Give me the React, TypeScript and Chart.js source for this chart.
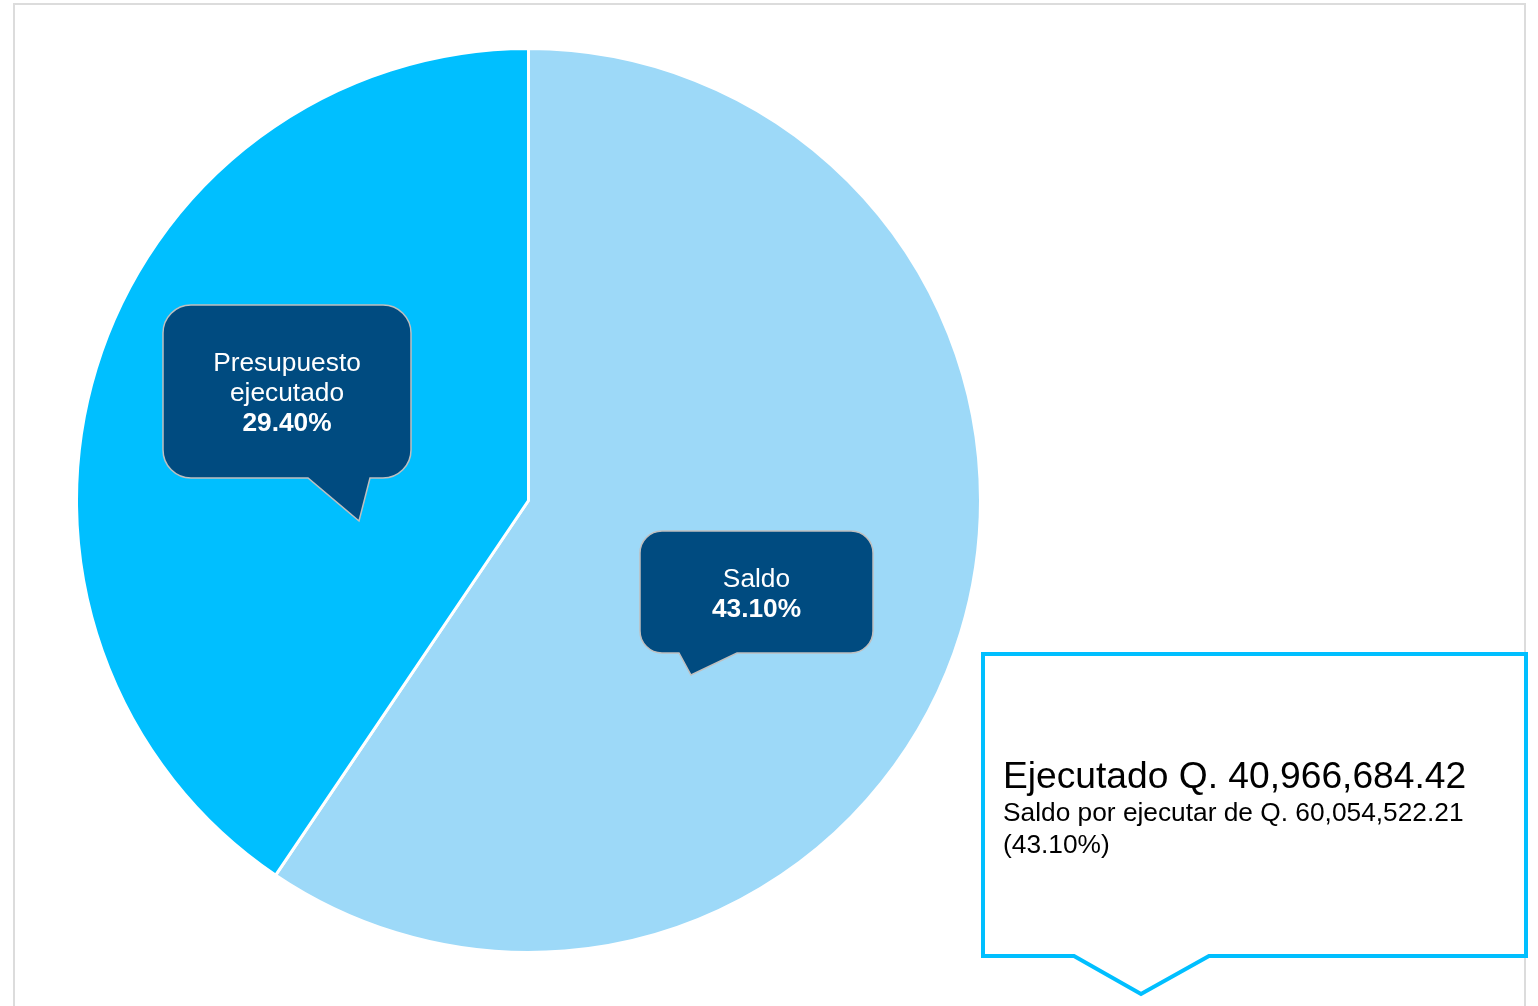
import React, { useEffect, useRef } from "react";
import { Chart, registerables } from "chart.js";

Chart.register(...registerables);

const categories = ["Saldo", "Presupuesto ejecutado"];
const amounts = [60054522.21, 40966684.42];
const percentLabels = ["43.10%", "29.40%"];
const summaryTitle = "Ejecutado Q. 40,966,684.42";
const summaryLine2 = "Saldo por ejecutar de Q. 60,054,522.21";
const summaryLine3 = "(43.10%)";

const SLICE_COLORS = ["#9DD9F8", "#00BFFF"];
const BUBBLE_FILL = "#004B80";
const BUBBLE_STROKE = "#BFBFBF";
const FONT = "Arial, 'Liberation Sans', Helvetica, sans-serif";

function bubblePath(
  x: number,
  y: number,
  w: number,
  h: number,
  r: number,
  tl: number,
  tr: number,
  tipX: number,
  tipY: number
) {
  const b = y + h;
  const rr = x + w;
  return [
    `M ${x + r} ${y}`,
    `H ${rr - r}`,
    `A ${r} ${r} 0 0 1 ${rr} ${y + r}`,
    `V ${b - r}`,
    `A ${r} ${r} 0 0 1 ${rr - r} ${b}`,
    `H ${tr}`,
    `L ${tipX} ${tipY}`,
    `L ${tl} ${b}`,
    `H ${x + r}`,
    `A ${r} ${r} 0 0 1 ${x} ${b - r}`,
    `V ${y + r}`,
    `A ${r} ${r} 0 0 1 ${x + r} ${y}`,
    "Z",
  ].join(" ");
}

export default function App() {
  const canvasRef = useRef<HTMLCanvasElement | null>(null);

  useEffect(() => {
    if (!canvasRef.current) return;
    const chart = new Chart(canvasRef.current, {
      type: "pie",
      data: {
        labels: categories,
        datasets: [
          {
            data: amounts,
            backgroundColor: SLICE_COLORS,
            borderColor: "#FFFFFF",
            borderWidth: 3,
          },
        ],
      },
      options: {
        animation: false,
        responsive: true,
        maintainAspectRatio: false,
        layout: { padding: 0 },
        plugins: {
          legend: { display: false },
          tooltip: { enabled: false },
          title: { display: false },
        },
      },
    });
    return () => chart.destroy();
  }, []);

  const textStyle: React.CSSProperties = {
    position: "absolute",
    color: "#FFFFFF",
    fontFamily: FONT,
    fontSize: 26.3,
    lineHeight: "30px",
    textAlign: "center",
    whiteSpace: "nowrap",
  };

  return (
    <div
      style={{
        position: "absolute",
        left: 0,
        top: 0,
        width: 1538,
        height: 1006,
        overflow: "hidden",
        background: "#FFFFFF",
      }}
    >
      <div
        style={{
          position: "absolute",
          left: 13,
          top: 3,
          width: 1509,
          height: 1100,
          border: "2px solid #DCDCDC",
        }}
      />
      <div
        style={{
          position: "absolute",
          left: 75,
          top: 47,
          width: 907,
          height: 907,
        }}
      >
        <canvas ref={canvasRef} />
      </div>
      <svg
        width={1538}
        height={1006}
        style={{ position: "absolute", left: 0, top: 0, pointerEvents: "none" }}
      >
        <path
          d={bubblePath(163, 305, 248, 173, 28, 308, 370, 359, 521)}
          fill={BUBBLE_FILL}
          stroke={BUBBLE_STROKE}
          strokeWidth={1.5}
        />
        <path
          d={bubblePath(640, 531, 233, 122, 22, 679, 737, 691, 675)}
          fill={BUBBLE_FILL}
          stroke={BUBBLE_STROKE}
          strokeWidth={1.5}
        />
        <path
          d={bubblePath(983, 654, 543, 302, 0, 1074, 1209, 1141, 994)}
          fill="#FFFFFF"
          stroke="#00BFFF"
          strokeWidth={4}
          strokeLinejoin="miter"
        />
      </svg>
      <div style={{ ...textStyle, left: 163, top: 347, width: 248 }}>
        <div>Presupuesto</div>
        <div>ejecutado</div>
        <div style={{ fontWeight: "bold" }}>{percentLabels[1]}</div>
      </div>
      <div style={{ ...textStyle, left: 640, top: 563, width: 233 }}>
        <div>{categories[0]}</div>
        <div style={{ fontWeight: "bold" }}>{percentLabels[0]}</div>
      </div>
      <div
        style={{
          position: "absolute",
          left: 1003,
          top: 754,
          color: "#000000",
          fontFamily: FONT,
          whiteSpace: "nowrap",
        }}
      >
        <div style={{ fontSize: 37.2, lineHeight: "42px" }}>{summaryTitle}</div>
        <div style={{ fontSize: 26.3, lineHeight: "32px" }}>{summaryLine2}</div>
        <div style={{ fontSize: 26.3, lineHeight: "32px" }}>{summaryLine3}</div>
      </div>
    </div>
  );
}
